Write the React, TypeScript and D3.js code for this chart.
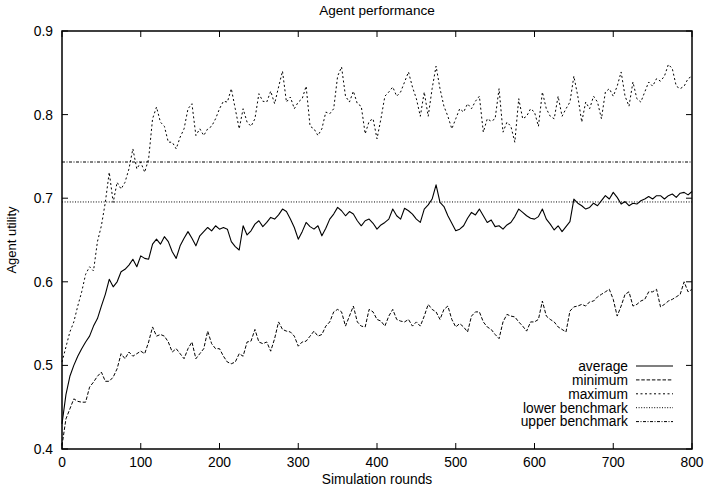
import React from "react";
import * as d3 from "d3";

const ROUND_STEP = 5;
const xTicks = [0, 100, 200, 300, 400, 500, 600, 700, 800];
const yTicks = [0.4, 0.5, 0.6, 0.7, 0.8, 0.9];
const yTickLabels = ["0.4", "0.5", "0.6", "0.7", "0.8", "0.9"];

const averageSeries = [
  0.43,0.465,0.487,0.50,0.511,0.52,0.528,0.535,0.547,0.556,0.571,0.585,0.603,0.594,0.60,0.612,0.615,0.62,0.627,0.618,
  0.631,0.628,0.627,0.645,0.651,0.645,0.654,0.648,0.636,0.628,0.643,0.652,0.66,0.652,0.643,0.655,0.66,0.665,0.661,0.667,
  0.663,0.665,0.663,0.648,0.642,0.638,0.667,0.656,0.661,0.669,0.673,0.666,0.671,0.677,0.675,0.68,0.687,0.684,0.675,0.665,
  0.651,0.66,0.671,0.666,0.663,0.667,0.655,0.664,0.675,0.681,0.689,0.685,0.679,0.684,0.681,0.673,0.667,0.673,0.675,0.67,
  0.663,0.668,0.671,0.675,0.687,0.679,0.675,0.688,0.685,0.681,0.675,0.671,0.687,0.692,0.699,0.716,0.695,0.69,0.679,0.67,
  0.661,0.663,0.667,0.676,0.683,0.68,0.687,0.679,0.671,0.674,0.666,0.667,0.663,0.668,0.671,0.678,0.687,0.683,0.679,0.676,
  0.675,0.678,0.687,0.675,0.669,0.662,0.667,0.66,0.666,0.672,0.699,0.694,0.691,0.687,0.689,0.694,0.691,0.697,0.703,0.699,
  0.707,0.701,0.693,0.696,0.691,0.694,0.693,0.697,0.699,0.702,0.699,0.703,0.703,0.699,0.703,0.705,0.701,0.706,0.707,0.704,
  0.708,
];

const minimumSeries = [
  0.404,0.436,0.448,0.46,0.457,0.456,0.456,0.474,0.48,0.487,0.492,0.481,0.481,0.486,0.496,0.514,0.508,0.516,0.511,0.514,
  0.517,0.514,0.528,0.546,0.535,0.537,0.535,0.528,0.516,0.52,0.514,0.508,0.52,0.528,0.508,0.514,0.52,0.541,0.526,0.52,
  0.52,0.511,0.504,0.502,0.504,0.514,0.511,0.528,0.529,0.543,0.528,0.526,0.528,0.517,0.532,0.552,0.543,0.541,0.54,0.535,
  0.523,0.528,0.529,0.535,0.541,0.535,0.537,0.547,0.552,0.564,0.567,0.564,0.547,0.559,0.571,0.552,0.547,0.546,0.567,0.564,
  0.555,0.553,0.547,0.559,0.567,0.555,0.553,0.552,0.555,0.547,0.552,0.547,0.559,0.573,0.567,0.564,0.555,0.567,0.571,0.555,
  0.546,0.55,0.546,0.54,0.559,0.564,0.564,0.552,0.546,0.543,0.537,0.532,0.552,0.561,0.559,0.558,0.552,0.547,0.541,0.552,
  0.552,0.555,0.577,0.559,0.555,0.552,0.546,0.543,0.54,0.565,0.57,0.571,0.573,0.571,0.576,0.577,0.582,0.585,0.588,0.591,
  0.579,0.559,0.571,0.585,0.588,0.571,0.573,0.577,0.579,0.588,0.588,0.591,0.57,0.573,0.577,0.579,0.582,0.585,0.6,0.588,
  0.591,
];

const maximumSeries = [
  0.504,0.522,0.54,0.552,0.571,0.588,0.609,0.618,0.613,0.648,0.667,0.695,0.731,0.695,0.719,0.711,0.719,0.735,0.759,0.735,
  0.743,0.731,0.747,0.795,0.809,0.791,0.786,0.767,0.767,0.759,0.773,0.783,0.807,0.813,0.775,0.783,0.775,0.783,0.786,0.795,
  0.807,0.816,0.815,0.831,0.807,0.783,0.807,0.791,0.786,0.795,0.825,0.816,0.815,0.828,0.813,0.833,0.852,0.815,0.821,0.807,
  0.815,0.819,0.834,0.786,0.783,0.775,0.783,0.803,0.801,0.807,0.846,0.857,0.822,0.815,0.828,0.813,0.81,0.777,0.792,0.795,
  0.771,0.795,0.822,0.827,0.833,0.822,0.827,0.839,0.851,0.833,0.819,0.798,0.827,0.798,0.831,0.858,0.831,0.81,0.798,0.783,
  0.795,0.807,0.803,0.813,0.807,0.816,0.822,0.779,0.795,0.792,0.795,0.831,0.779,0.791,0.786,0.767,0.819,0.795,0.798,0.807,
  0.803,0.786,0.827,0.807,0.798,0.795,0.822,0.798,0.807,0.815,0.846,0.822,0.791,0.815,0.807,0.822,0.815,0.795,0.827,0.831,
  0.822,0.834,0.851,0.822,0.81,0.839,0.819,0.815,0.827,0.839,0.834,0.843,0.84,0.846,0.86,0.855,0.834,0.831,0.834,0.843,
  0.846,
];

const lowerBenchmark = 0.6955;
const upperBenchmark = 0.7433;

const legendLabels = ["average", "minimum", "maximum", "lower benchmark", "upper benchmark"];

const W = 705;
const H = 490;
const M = { left: 62, right: 692, top: 31, bottom: 449 };
const FONT = "'Liberation Sans', Arial, Helvetica, sans-serif";
const FS = 13.8;

export default function App() {
  const x = d3.scaleLinear().domain([0, 800]).range([M.left, M.right]);
  const y = d3.scaleLinear().domain([0.4, 0.9]).range([M.bottom, M.top]);
  const line = d3
    .line<number>()
    .x((_, i) => x(i * ROUND_STEP))
    .y((d) => y(d));

  const styles = [
    { dash: undefined, width: 1.1 },
    { dash: "3.5,1.8", width: 1 },
    { dash: "2,2.5", width: 1 },
    { dash: "1,1.6", width: 1 },
    { dash: "3,1.5,1,1.5", width: 1 },
  ];

  const series = [averageSeries, minimumSeries, maximumSeries];
  const tick = 6;

  return (
    <svg
      width={W}
      height={H}
      style={{ position: "absolute", left: 0, top: 0, background: "#fff" }}
      fontFamily={FONT}
    >
      <rect x={0} y={0} width={W} height={H} fill="#fff" />
      <line x1={x(0)} x2={x(800)} y1={y(lowerBenchmark)} y2={y(lowerBenchmark)} stroke="#000" strokeWidth={styles[3].width} strokeDasharray={styles[3].dash} />
      <line x1={x(0)} x2={x(800)} y1={y(upperBenchmark)} y2={y(upperBenchmark)} stroke="#000" strokeWidth={styles[4].width} strokeDasharray={styles[4].dash} />
      {series.map((s, i) => (
        <path key={i} d={line(s) || ""} fill="none" stroke="#000" strokeWidth={styles[i].width} strokeDasharray={styles[i].dash} strokeLinejoin="round" />
      ))}
      {xTicks.map((t) => (
        <g key={"x" + t}>
          <line x1={x(t)} x2={x(t)} y1={M.bottom} y2={M.bottom - tick} stroke="#000" />
          <line x1={x(t)} x2={x(t)} y1={M.top} y2={M.top + tick} stroke="#000" />
          <text x={x(t)} y={467} fontSize={FS} textAnchor="middle" fill="#000">{t}</text>
        </g>
      ))}
      {yTicks.map((t, i) => (
        <g key={"y" + t}>
          <line x1={M.left} x2={M.left + tick} y1={y(t)} y2={y(t)} stroke="#000" />
          <line x1={M.right} x2={M.right - tick} y1={y(t)} y2={y(t)} stroke="#000" />
          <text x={53} y={y(t) + 5} fontSize={FS} textAnchor="end" fill="#000">{yTickLabels[i]}</text>
        </g>
      ))}
      <rect x={M.left} y={M.top} width={M.right - M.left} height={M.bottom - M.top} fill="none" stroke="#000" strokeWidth={1.5} />
      {legendLabels.map((lab, i) => {
        const ly = 366 + i * 13.9;
        return (
          <g key={lab}>
            <text x={628} y={ly + 4.8} fontSize={FS} textAnchor="end" fill="#000">{lab}</text>
            <line x1={636} x2={673} y1={ly} y2={ly} stroke="#000" strokeWidth={styles[i].width} strokeDasharray={styles[i].dash} />
          </g>
        );
      })}
      <text x={(M.left + M.right) / 2} y={15} fontSize={13.6} textAnchor="middle" fill="#000">Agent performance</text>
      <text x={(M.left + M.right) / 2} y={484} fontSize={FS} textAnchor="middle" fill="#000">Simulation rounds</text>
      <text transform={`translate(16,${(M.top + M.bottom) / 2}) rotate(-90)`} fontSize={13} textAnchor="middle" fill="#000">Agent utility</text>
    </svg>
  );
}
